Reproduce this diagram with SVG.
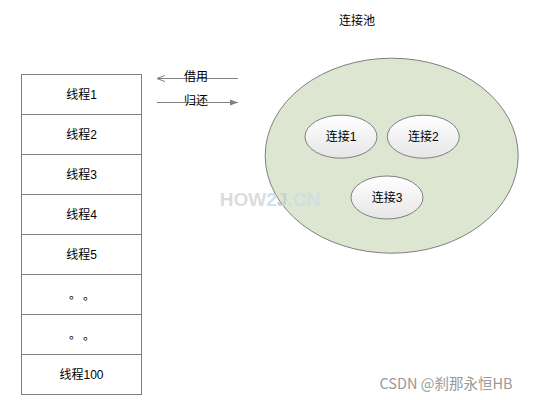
<svg xmlns="http://www.w3.org/2000/svg" width="536" height="400" viewBox="0 0 536 400">
<style>
.t{font-family:"Liberation Sans","Noto Sans CJK SC",sans-serif;font-size:12px;fill:#000;text-anchor:middle;dominant-baseline:central}
.d{font-family:"Noto Sans CJK SC",sans-serif;font-size:12px;fill:#000;dominant-baseline:central}
.cell{fill:#fff;stroke:#7f7f7f;stroke-width:1}
.conn{stroke:#7f7f7f;stroke-width:1;fill:none}
.small{fill:url(#g);stroke:#7f7f7f;stroke-width:1}
</style>
<defs>
<linearGradient id="g" x1="0" y1="0" x2="0" y2="1">
<stop offset="0" stop-color="#ffffff"/>
<stop offset="1" stop-color="#e6e6e6"/>
</linearGradient>
<marker id="open" markerWidth="10" markerHeight="8" refX="9" refY="4" orient="auto" markerUnits="userSpaceOnUse">
<path d="M1,1 L9,4 L1,7" fill="none" stroke="#7f7f7f" stroke-width="1"/>
</marker>
<marker id="fill" markerWidth="10" markerHeight="8" refX="8" refY="4" orient="auto" markerUnits="userSpaceOnUse">
<path d="M0,1 L8,4 L0,7 Z" fill="#7f7f7f"/>
</marker>
</defs>
<rect width="536" height="400" fill="#fff"/>
<g id="pool">
<ellipse cx="391.7" cy="155.7" rx="126.5" ry="97.5" fill="#dde6d0" stroke="#7f7f7f" stroke-width="1"/>
</g>
<text x="270" y="199" style="font-family:'Liberation Sans',sans-serif;font-size:19px;font-weight:bold;text-anchor:middle;dominant-baseline:central"><tspan fill="#dcdcdc">HOW</tspan><tspan fill="#cfe0ee">2</tspan><tspan fill="#c9cfd6">J</tspan><tspan fill="#cddfdf">.CN</tspan></text>
<g id="pool-label"><text class="t" x="357" y="21">连接池</text></g>
<g id="c1"><ellipse class="small" cx="341" cy="136.7" rx="36" ry="21.5"/><text class="t" x="341" y="136.7">连接1</text></g>
<g id="c2"><ellipse class="small" cx="423.3" cy="136.7" rx="36" ry="21.5"/><text class="t" x="423.3" y="136.7">连接2</text></g>
<g id="c3"><ellipse class="small" cx="387" cy="197.5" rx="36" ry="21.5"/><text class="t" x="387" y="197.5">连接3</text></g>
<g id="threads">
<g id="t1"><rect class="cell" x="21.5" y="74.5" width="120" height="40"/><text class="t" x="81.5" y="94.5">线程1</text></g>
<g id="t2"><rect class="cell" x="21.5" y="114.5" width="120" height="40"/><text class="t" x="81.5" y="134.5">线程2</text></g>
<g id="t3"><rect class="cell" x="21.5" y="154.5" width="120" height="40"/><text class="t" x="81.5" y="174.5">线程3</text></g>
<g id="t4"><rect class="cell" x="21.5" y="194.5" width="120" height="40"/><text class="t" x="81.5" y="214.5">线程4</text></g>
<g id="t5"><rect class="cell" x="21.5" y="234.5" width="120" height="40"/><text class="t" x="81.5" y="254.5">线程5</text></g>
<g id="t6"><rect class="cell" x="21.5" y="274.5" width="120" height="40"/><text class="d" x="69" y="293.5">。<tspan x="83">。</tspan></text></g>
<g id="t7"><rect class="cell" x="21.5" y="314.5" width="120" height="40"/><text class="d" x="69" y="333.5">。<tspan x="83">。</tspan></text></g>
<g id="t100"><rect class="cell" x="21.5" y="354.5" width="120" height="40"/><text class="t" x="81.5" y="374.5">线程100</text></g>
</g>
<g id="connectors">
<line class="conn" x1="238" y1="78.5" x2="157" y2="78.5" marker-end="url(#open)"/>
<line class="conn" x1="157" y1="102.5" x2="238" y2="102.5" marker-end="url(#fill)"/>
</g>
<g id="labels">
<text class="t" x="196" y="77">借用</text>
<text class="t" x="196" y="101">归还</text>
</g>
<text x="446" y="382" style="font-family:'Noto Sans CJK SC',sans-serif;font-size:14.5px;fill:#999;text-anchor:middle;dominant-baseline:central">CSDN @刹那永恒HB</text>
</svg>
